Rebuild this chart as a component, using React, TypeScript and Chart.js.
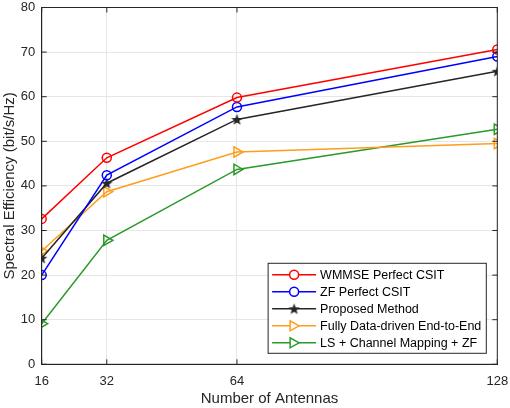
import React, { useEffect, useRef } from "react";
import { Chart, registerables } from "chart.js";

Chart.register(...registerables);

const antennas = [16, 32, 64, 128];
const xTicks = [16, 32, 64, 128];
const yTicks = [0, 10, 20, 30, 40, 50, 60, 70, 80];

const wmmse = [32.6, 46.3, 59.8, 70.6];
const zfPerfect = [20.0, 42.4, 57.7, 69.0];
const proposed = [23.8, 40.6, 54.9, 65.7];
const fullyDataDriven = [25.4, 38.7, 47.6, 49.5];
const lsMapping = [9.1, 27.8, 43.7, 52.7];

const labels = [
  "WMMSE Perfect CSIT",
  "ZF Perfect CSIT",
  "Proposed Method",
  "Fully Data-driven End-to-End",
  "LS + Channel Mapping + ZF",
];
const colors = ["#ff0000", "#0000ff", "#262626", "#ff9e1b", "#2a9a2a"];
const markers = ["circle", "circle", "star", "triangle", "triangle"];

const AXIS = "#262626";
const FONT = "'Liberation Sans', Arial, Helvetica, sans-serif";

function makeStar(color: string, size: number) {
  const c = document.createElement("canvas");
  c.width = size;
  c.height = size;
  const ctx = c.getContext("2d")!;
  const cx = size / 2;
  const cy = size / 2 + 0.5;
  const R = size / 2 - 0.5;
  const r = R * 0.42;
  ctx.beginPath();
  for (let i = 0; i < 10; i++) {
    const rad = i % 2 === 0 ? R : r;
    const a = -Math.PI / 2 + (i * Math.PI) / 5;
    const px = cx + rad * Math.cos(a);
    const py = cy + rad * Math.sin(a);
    if (i === 0) ctx.moveTo(px, py);
    else ctx.lineTo(px, py);
  }
  ctx.closePath();
  ctx.fillStyle = color;
  ctx.fill();
  return c;
}

function drawMarker(ctx: CanvasRenderingContext2D, kind: string, color: string, x: number, y: number, star: HTMLCanvasElement) {
  ctx.save();
  ctx.strokeStyle = color;
  ctx.lineWidth = 1.5;
  if (kind === "circle") {
    ctx.beginPath();
    ctx.arc(x, y, 4.5, 0, Math.PI * 2);
    ctx.fillStyle = "#ffffff";
    ctx.fill();
    ctx.stroke();
  } else if (kind === "triangle") {
    ctx.beginPath();
    ctx.moveTo(x + 5, y);
    ctx.lineTo(x - 4, y - 5);
    ctx.lineTo(x - 4, y + 5);
    ctx.closePath();
    ctx.fillStyle = "#ffffff";
    ctx.fill();
    ctx.stroke();
  } else {
    ctx.drawImage(star, x - star.width / 2, y - star.height / 2);
  }
  ctx.restore();
}

export default function App() {
  const ref = useRef<HTMLCanvasElement | null>(null);

  useEffect(() => {
    if (!ref.current) return;
    const star = makeStar(colors[2], 13);
    const series = [wmmse, zfPerfect, proposed, fullyDataDriven, lsMapping];

    const frame = {
      id: "frameAndLegend",
      afterDatasetsDraw(chart: any) {
        const { ctx, chartArea } = chart;
        const { left, right, top, bottom } = chartArea;
        const xs = chart.scales.x;
        const ys = chart.scales.y;
        ctx.save();
        ctx.strokeStyle = AXIS;
        ctx.lineWidth = 1;
        ctx.strokeRect(left, top, right - left, bottom - top);
        const tl = 5;
        ctx.beginPath();
        xTicks.forEach((v) => {
          const px = xs.getPixelForValue(v);
          ctx.moveTo(px, bottom);
          ctx.lineTo(px, bottom - tl);
          ctx.moveTo(px, top);
          ctx.lineTo(px, top + tl);
        });
        yTicks.forEach((v) => {
          const py = ys.getPixelForValue(v);
          ctx.moveTo(left, py);
          ctx.lineTo(left + tl, py);
          ctx.moveTo(right, py);
          ctx.lineTo(right - tl, py);
        });
        ctx.stroke();

        const fontSize = 12.5;
        ctx.font = `${fontSize}px ${FONT}`;
        const rowH = 17;
        let maxW = 0;
        labels.forEach((l) => (maxW = Math.max(maxW, ctx.measureText(l).width)));
        const lineLen = 44;
        const boxW = 4 + lineLen + 4 + maxW + 5;
        const boxH = rowH * labels.length + 5;
        const bx = right - 11 - boxW;
        const by = bottom - 11 - boxH;
        ctx.fillStyle = "#ffffff";
        ctx.fillRect(bx, by, boxW, boxH);
        ctx.strokeStyle = AXIS;
        ctx.lineWidth = 1;
        ctx.strokeRect(bx, by, boxW, boxH);
        labels.forEach((l, i) => {
          const cy = by + 3 + rowH * i + rowH / 2;
          const x0 = bx + 4;
          ctx.strokeStyle = colors[i];
          ctx.lineWidth = 1.5;
          ctx.beginPath();
          ctx.moveTo(x0, cy);
          ctx.lineTo(x0 + lineLen, cy);
          ctx.stroke();
          drawMarker(ctx, markers[i], colors[i], x0 + lineLen / 2, cy, star);
          ctx.fillStyle = "#000000";
          ctx.textBaseline = "middle";
          ctx.textAlign = "left";
          ctx.fillText(l, x0 + lineLen + 4, cy + 0.5);
        });
        ctx.restore();
      },
    };

    const chart = new Chart(ref.current, {
      type: "line",
      data: {
        datasets: series.map((vals, i) => ({
          label: labels[i],
          data: vals.map((v, j) => ({ x: antennas[j], y: v })),
          borderColor: colors[i],
          backgroundColor: "rgba(0,0,0,0)",
          borderWidth: 1.5,
          pointStyle: markers[i] === "star" ? star : markers[i],
          pointRotation: markers[i] === "triangle" ? 90 : 0,
          pointRadius: markers[i] === "triangle" ? 6 : 4.5,
          pointBorderWidth: 1.5,
          pointBorderColor: colors[i],
          pointBackgroundColor: "rgba(0,0,0,0)",
          tension: 0,
        })),
      },
      plugins: [frame],
      options: {
        animation: false,
        responsive: false,
        devicePixelRatio: 1,
        layout: { padding: { left: 0, top: 5, right: 12.7, bottom: 0 } },
        plugins: {
          legend: { display: false },
          tooltip: { enabled: false },
        },
        scales: {
          x: {
            type: "linear",
            min: 16,
            max: 128,
            afterBuildTicks: (s: any) => {
              s.ticks = xTicks.map((v) => ({ value: v }));
            },
            afterFit: (s: any) => {
              s.height = 43.7;
              s.paddingLeft = 0;
              s.paddingRight = 0;
            },
            grid: { color: "#e6e6e6", drawTicks: false, lineWidth: 1 },
            border: { display: true, color: AXIS, width: 1 },
            ticks: {
              color: AXIS,
              font: { family: FONT, size: 13 },
              padding: 9,
              maxRotation: 0,
              autoSkip: false,
            },
            title: {
              display: true,
              text: "Number of Antennas",
              color: AXIS,
              font: { family: FONT, size: 15 },
              padding: { top: 0, bottom: 0 },
            },
          },
          y: {
            min: 0,
            max: 80,
            afterBuildTicks: (s: any) => {
              s.ticks = yTicks.map((v) => ({ value: v }));
            },
            afterFit: (s: any) => {
              s.width = 41.7;
              s.paddingTop = 0;
              s.paddingBottom = 0;
            },
            grid: { color: "#e6e6e6", drawTicks: false, lineWidth: 1 },
            border: { display: true, color: AXIS, width: 1 },
            ticks: {
              color: AXIS,
              font: { family: FONT, size: 13 },
              padding: 6.5,
            },
            title: {
              display: true,
              text: "Spectral Efficiency (bit/s/Hz)",
              color: AXIS,
              font: { family: FONT, size: 15 },
              padding: { top: 1, bottom: 0 },
            },
          },
        },
      },
    } as any);
    return () => chart.destroy();
  }, []);

  return (
    <div style={{ position: "fixed", left: 0, top: 0, width: 510, height: 408, background: "#ffffff" }}>
      <canvas ref={ref} width={510} height={408} style={{ width: 510, height: 408 }} />
    </div>
  );
}
